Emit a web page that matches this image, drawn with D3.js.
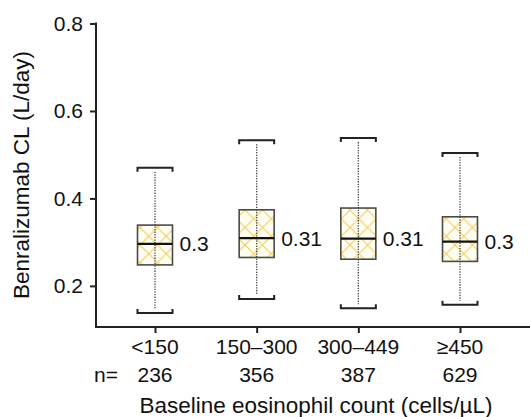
<!DOCTYPE html>
<html>
<head>
<meta charset="utf-8">
<script src="https://cdn.jsdelivr.net/npm/d3@7"></script>
<style>
  body { margin: 0; background: #fff; }
  svg text { font-family: "Liberation Sans", Arial, sans-serif; fill: #111; }
</style>
</head>
<body>
<svg id="chart" width="530" height="417"></svg>
<script>
// categories and box statistics
const categories = ["<150", "150\u2013300", "300\u2013449", "\u2265450"];
const counts = [236, 356, 387, 629];
const whiskerLow = [0.138, 0.170, 0.149, 0.157];
const q1 = [0.248, 0.265, 0.261, 0.256];
const median = [0.296, 0.309, 0.308, 0.301];
const q3 = [0.339, 0.374, 0.378, 0.358];
const whiskerHigh = [0.470, 0.533, 0.538, 0.504];
const medianLabels = ["0.3", "0.31", "0.31", "0.3"];
const yTicks = [0.2, 0.4, 0.6, 0.8];

const svg = d3.select("#chart");
const fontSize = 21;
const titleSize = 22.5;
const boxW = 35;

// scales
const x = d3.scalePoint().domain(categories).range([155, 460]);
const y = d3.scaleLinear().domain([0.106, 0.8]).range([327, 23.5]);

// crosshatch fill
const defs = svg.append("defs");
const pat = defs.append("pattern")
    .attr("id", "hatch")
    .attr("patternUnits", "userSpaceOnUse")
    .attr("width", 17.5).attr("height", 17.5);
pat.append("rect").attr("width", 17.5).attr("height", 17.5).attr("fill", "#fffdf2");
pat.append("path")
    .attr("d", "M0,0L17.5,17.5M17.5,0L0,17.5")
    .attr("stroke", "#efcf5a").attr("stroke-width", 1.1);

const data = categories.map((c, i) => ({
    cat: c, n: counts[i], lo: whiskerLow[i], q1: q1[i], med: median[i],
    q3: q3[i], hi: whiskerHigh[i], label: medianLabels[i]
}));

// y axis
const yAxis = d3.axisLeft(y).tickValues(yTicks).tickFormat(d3.format(".1f"))
    .tickSize(6).tickPadding(7);
const gy = svg.append("g").attr("transform", "translate(96,0)").call(yAxis);
gy.select(".domain").remove();
gy.selectAll(".tick line").attr("stroke", "#222").attr("stroke-width", 2);
gy.selectAll(".tick text").style("font-size", fontSize + "px")
    .style("font-family", "Liberation Sans, Arial, sans-serif").attr("fill", "#111");
svg.append("line").attr("x1", 96).attr("x2", 96)
    .attr("y1", y(0.8) - 1).attr("y2", y(0.106))
    .attr("stroke", "#222").attr("stroke-width", 2);

// x axis
const xAxis = d3.axisBottom(x).tickSize(6).tickFormat("");
const gx = svg.append("g").attr("transform", "translate(0," + y(0.106) + ")").call(xAxis);
gx.select(".domain").remove();
gx.selectAll(".tick line").attr("stroke", "#222").attr("stroke-width", 2);
svg.append("line").attr("x1", 95).attr("x2", 530)
    .attr("y1", y(0.106)).attr("y2", y(0.106))
    .attr("stroke", "#222").attr("stroke-width", 2);

// category labels and n row
svg.selectAll(".cat").data(data).enter().append("text")
    .attr("class", "cat")
    .attr("x", d => x(d.cat)).attr("y", 354)
    .attr("text-anchor", "middle").style("font-size", fontSize + "px")
    .text(d => d.cat);
svg.selectAll(".n").data(data).enter().append("text")
    .attr("class", "n")
    .attr("x", d => x(d.cat)).attr("y", 382)
    .attr("text-anchor", "middle").style("font-size", fontSize + "px")
    .text(d => d.n);
svg.append("text").attr("x", 94).attr("y", 382)
    .style("font-size", fontSize + "px").text("n=");

// boxes
const g = svg.selectAll(".box").data(data).enter().append("g").attr("class", "box");

g.append("rect")
    .attr("x", d => x(d.cat) - boxW / 2).attr("width", boxW)
    .attr("y", d => y(d.q3)).attr("height", d => y(d.q1) - y(d.q3))
    .attr("fill", "url(#hatch)").attr("stroke", "#4a4a4a").attr("stroke-width", 1.6);

// dotted whisker through the box
g.append("line")
    .attr("x1", d => x(d.cat)).attr("x2", d => x(d.cat))
    .attr("y1", d => y(d.hi) + 4).attr("y2", d => y(d.lo) - 4)
    .attr("stroke", "#444").attr("stroke-width", 1.3).attr("stroke-dasharray", "1.3,1.3");

g.append("line")
    .attr("x1", d => x(d.cat) - boxW / 2).attr("x2", d => x(d.cat) + boxW / 2)
    .attr("y1", d => y(d.med)).attr("y2", d => y(d.med))
    .attr("stroke", "#111").attr("stroke-width", 2.2);

// caps
g.append("path")
    .attr("d", d => {
        const l = x(d.cat) - boxW / 2, r = x(d.cat) + boxW / 2, t = y(d.hi);
        return `M${l},${t + 4}V${t}H${r}V${t + 4}`;
    })
    .attr("fill", "none").attr("stroke", "#222").attr("stroke-width", 2);
g.append("path")
    .attr("d", d => {
        const l = x(d.cat) - boxW / 2, r = x(d.cat) + boxW / 2, b = y(d.lo);
        return `M${l},${b - 4}V${b}H${r}V${b - 4}`;
    })
    .attr("fill", "none").attr("stroke", "#222").attr("stroke-width", 2);

// median labels
g.append("text")
    .attr("x", d => x(d.cat) + boxW / 2 + 7).attr("y", d => y(d.med))
    .attr("dy", "0.36em").style("font-size", fontSize + "px")
    .text(d => d.label);

// axis titles
svg.append("text")
    .attr("transform", "translate(29,175) rotate(-90)")
    .attr("text-anchor", "middle").style("font-size", titleSize + "px")
    .text("Benralizumab CL (L/day)");
svg.append("text")
    .attr("x", 316).attr("y", 413)
    .attr("text-anchor", "middle").style("font-size", titleSize + "px")
    .text("Baseline eosinophil count (cells/\u00b5L)");
</script>
</body>
</html>
